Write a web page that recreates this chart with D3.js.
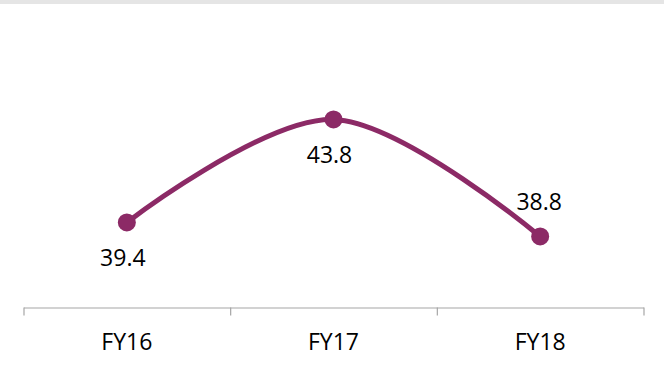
<!DOCTYPE html>
<html>
<head>
<meta charset="utf-8">
<script src="https://cdn.jsdelivr.net/npm/d3@7"></script>
<style>
  html, body { margin: 0; padding: 0; background: #ffffff; }
  svg { display: block; }
</style>
</head>
<body>
<svg id="chart" width="664" height="370"></svg>
<script>
// Fiscal years and their values
const categories = ["FY16", "FY17", "FY18"];
const values = [39.4, 43.8, 38.8];
// Where each value label sits relative to its point
const labelSides = ["below", "below", "above"];

const W = 664, H = 370;
const svg = d3.select("#chart");

// thin grey strip along the top edge
svg.append("rect").attr("x", 0).attr("y", 0).attr("width", W).attr("height", 4).attr("fill", "#e5e5e5");

const axisY = 307.5;
const x = d3.scaleBand().domain(categories).range([23.5, 643.5]).padding(0);
const y = d3.scaleLinear().domain([36, 46]).range([302, 68]);

// category boundaries for the tick marks
const xEdge = d3.scaleLinear().domain([0, categories.length]).range(x.range());

const edgeAxis = svg.append("g")
  .attr("transform", `translate(0,${axisY})`)
  .call(d3.axisBottom(xEdge).ticks(categories.length).tickFormat("").tickSizeInner(8).tickSizeOuter(0));
edgeAxis.selectAll("path, line").attr("stroke", "#a6a6a6").attr("stroke-width", 1.2);

const labelAxis = svg.append("g")
  .attr("transform", `translate(0,${axisY})`)
  .call(d3.axisBottom(x).tickSize(0).tickPadding(26));
labelAxis.select(".domain").remove();
labelAxis.selectAll("text")
  .attr("font-family", "'Open Sans', sans-serif")
  .attr("font-size", 23)
  .attr("fill", "#000");

const cx = d => x(d) + x.bandwidth() / 2;
const pts = categories.map((c, i) => [cx(c), y(values[i])]);

const color = "#8c2a66";

svg.append("path")
  .datum(pts)
  .attr("fill", "none")
  .attr("stroke", color)
  .attr("stroke-width", 5)
  .attr("stroke-linecap", "round")
  .attr("d", d3.line().curve(d3.curveCardinal.tension(0)));

svg.selectAll("circle.pt")
  .data(pts)
  .join("circle")
  .attr("class", "pt")
  .attr("cx", d => d[0])
  .attr("cy", d => d[1])
  .attr("r", 9)
  .attr("fill", color);

svg.selectAll("text.val")
  .data(values)
  .join("text")
  .attr("class", "val")
  .attr("x", (v, i) => pts[i][0] - (labelSides[i] === "below" ? 4 : 1))
  .attr("y", (v, i) => pts[i][1] + (labelSides[i] === "below" ? 44 : -26))
  .attr("text-anchor", "middle")
  .attr("font-family", "'Open Sans', sans-serif")
  .attr("font-size", 23)
  .attr("fill", "#000")
  .text(v => v.toFixed(1));
</script>
</body>
</html>
